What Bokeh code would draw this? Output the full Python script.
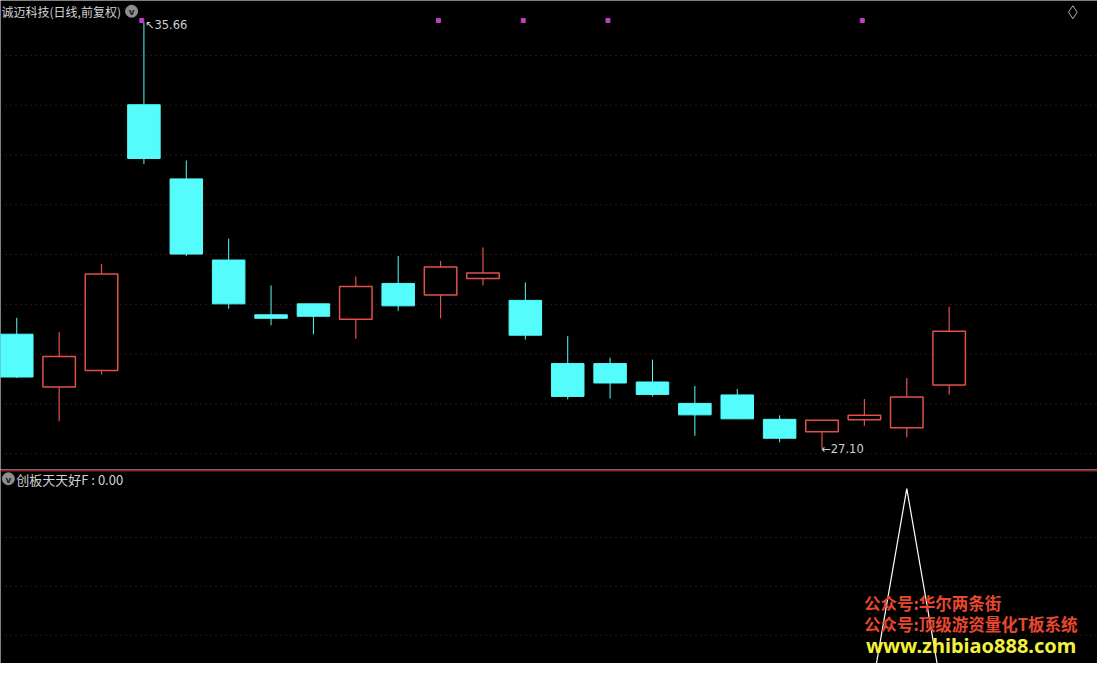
from bokeh.plotting import figure
from bokeh.layouts import column
from bokeh.models import Range1d, ColumnDataSource, Span, Label
from bokeh.embed import file_html
from bokeh.resources import INLINE

# ---------------- data ----------------
opens  = [29.40, 28.34, 28.67, 34.01, 32.52, 30.89, 29.79, 30.01, 29.70, 30.42, 30.19, 30.52,
          30.08, 28.81, 28.81, 28.44, 28.01, 28.18, 27.69, 27.44, 27.68, 27.52, 28.38]
highs  = [29.73, 29.44, 30.81, 35.66, 32.89, 31.32, 30.38, 30.01, 30.56, 30.97, 30.87, 31.14,
          30.44, 29.36, 28.93, 28.89, 28.36, 28.30, 27.77, 27.67, 28.10, 28.52, 29.95]
lows   = [28.52, 27.65, 28.59, 32.82, 30.97, 29.91, 29.58, 29.40, 29.31, 29.87, 29.72, 30.38,
          29.29, 28.09, 28.11, 28.15, 27.36, 27.70, 27.23, 27.10, 27.56, 27.33, 28.19]
closes = [28.54, 28.95, 30.61, 32.93, 31.01, 30.01, 29.72, 29.76, 30.36, 29.97, 30.75, 30.63,
          29.38, 28.15, 28.42, 28.19, 27.78, 27.70, 27.31, 27.67, 27.77, 28.14, 29.46]
signal_idx = [3, 10, 12, 14, 20]          # magenta markers on top
indicator  = [0, 0, 0, 0, 0, 0, 0, 0, 0, 0, 0, 0, 0, 0, 0, 0, 0, 0, 0, 0, 0, 5, 0]
price_grid = [27, 28, 29, 30, 31, 32, 33, 34, 35]
ind_grid   = [2, 3, 4]
title_main = "诚迈科技(日线,前复权)"
title_ind  = "创板天天好F : 0.00"
high_label = "↖35.66"
low_label  = "←27.10"
wm1 = "公众号:华尔两条街"
wm2 = "公众号:顶级游资量化T板系统"
wm3 = "www.zhibiao888.com"

# ---------------- helpers (reference pixel -> data) ----------------
def X(px):
    return (px - 16.5) / 43.0

def Y1(py):
    return 35 - (py - 56.3) / 51.0

def Y2(py):
    return 5 - (py - 500) / 50.0

UP = "#e0514a"
DOWN = "#54fcfc"
GRID = "#6e2222"
W = 1097

n = len(opens)
xs = list(range(n))
tops = [max(o, c) for o, c in zip(opens, closes)]
bots = [min(o, c) for o, c in zip(opens, closes)]
up = [c > o for o, c in zip(opens, closes)]

xr = Range1d(X(0), X(1113))

p = figure(width=W, height=469, x_range=xr, y_range=Range1d(Y1(480.5), Y1(0)),
           x_axis_type=None, y_axis_type=None, output_backend="svg",
           toolbar_location=None, background_fill_color="black",
           border_fill_color="black", outline_line_color=None, min_border=0)

for g in price_grid:
    p.add_layout(Span(location=g, dimension="width", line_color=GRID,
                      line_dash="1 4", line_width=1, level="underlay"))

def subset(mask):
    idx = [i for i in range(n) if mask[i]]
    return ColumnDataSource(dict(
        x=[xs[i] for i in idx], top=[tops[i] for i in idx], bot=[bots[i] for i in idx],
        hi=[highs[i] for i in idx], lo=[lows[i] for i in idx]))

src_up = subset(up)
src_dn = subset([not u for u in up])

# wicks
p.segment(x0="x", y0="hi", x1="x", y1="top", source=src_up, line_color=UP, line_width=1.2)
p.segment(x0="x", y0="bot", x1="x", y1="lo", source=src_up, line_color=UP, line_width=1.2)
p.segment(x0="x", y0="hi", x1="x", y1="lo", source=src_dn, line_color=DOWN, line_width=1)
# bodies
p.vbar(x="x", width=0.767, top="top", bottom="bot", source=src_dn,
       fill_color=DOWN, line_color=DOWN, line_width=1)
p.vbar(x="x", width=0.767, top="top", bottom="bot", source=src_up,
       fill_color="black", line_color=UP, line_width=1.5)

# signal markers
p.scatter(x=[i - 0.05 for i in signal_idx], y=[Y1(20.5)] * len(signal_idx),
          marker="square", size=4, fill_color="#c43cc4", line_color="#c43cc4")

# high / low annotations
ih = highs.index(max(highs))
il = lows.index(min(lows))
p.add_layout(Label(x=ih + 0.02, y=Y1(25), text=high_label, text_font="DejaVu Sans",
                   text_font_size="11.5px", text_color="#cfcfcf", text_baseline="middle"))
p.add_layout(Label(x=il - 0.02, y=lows[il], text=low_label, text_font="DejaVu Sans",
                   text_font_size="11.5px", text_color="#cfcfcf", text_baseline="middle"))

# title & icons
p.add_layout(Label(x=X(1), y=Y1(11), text=title_main, text_font="Noto Sans CJK SC",
                   text_font_size="12px", text_color="#d2d2d2", text_baseline="middle"))
p.scatter(x=[X(133)], y=[Y1(11)], marker="circle", size=12, fill_color="#8e8e8e",
          line_color="#8e8e8e")
p.add_layout(Label(x=X(133), y=Y1(12), text="v", text_font="DejaVu Sans",
                   text_font_size="9px", text_font_style="bold", text_color="#202020",
                   text_align="center", text_baseline="middle"))
p.scatter(x=[X(1088)], y=[Y1(12)], marker="diamond", size=13, fill_color=None,
          line_color="#b4b4b4", line_width=1)

# ---------------- indicator panel ----------------
q = figure(width=W, height=194, x_range=xr, y_range=Range1d(Y2(679), Y2(480.5)),
           x_axis_type=None, y_axis_type=None, output_backend="svg",
           toolbar_location=None, background_fill_color="black",
           border_fill_color="black", outline_line_color=None, min_border=0)

for g in ind_grid:
    q.add_layout(Span(location=g, dimension="width", line_color=GRID,
                      line_dash="1 4", line_width=1, level="underlay"))
q.add_layout(Span(location=Y2(481.5), dimension="width", line_color="#8a2424", line_width=2))

q.line(x=xs, y=indicator, line_color="white", line_width=1.2)

q.scatter(x=[X(8)], y=[Y2(490)], marker="circle", size=12, fill_color="#8e8e8e",
          line_color="#8e8e8e")
q.add_layout(Label(x=X(8), y=Y2(491), text="v", text_font="DejaVu Sans",
                   text_font_size="9px", text_font_style="bold", text_color="#202020",
                   text_align="center", text_baseline="middle"))
q.add_layout(Label(x=X(16), y=Y2(491), text=title_ind, text_font="Noto Sans CJK SC",
                   text_font_size="13px", text_color="#d2d2d2", text_baseline="middle"))

q.add_layout(Label(x=X(876), y=Y2(617), text=wm1, text_font="Noto Sans CJK SC",
                   text_font_size="16.5px", text_font_style="bold", text_color="#e8472f",
                   text_baseline="middle"))
q.add_layout(Label(x=X(876), y=Y2(639), text=wm2, text_font="Noto Sans CJK SC",
                   text_font_size="16.5px", text_font_style="bold", text_color="#e8472f",
                   text_baseline="middle"))
q.add_layout(Label(x=X(878), y=Y2(661), text=wm3, text_font="Noto Sans",
                   text_font_size="20px", text_font_style="bold", text_color="#f2f23c",
                   text_baseline="middle"))

layout = column(p, q, spacing=0)
open("out.html", "w").write(file_html(layout, INLINE))
